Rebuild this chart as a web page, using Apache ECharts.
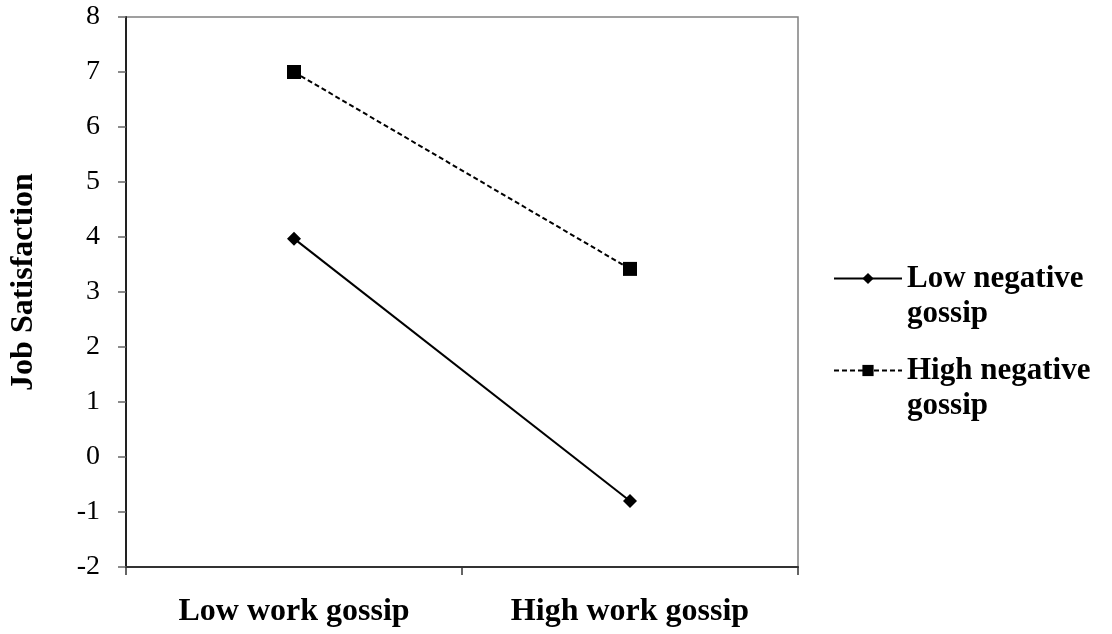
<!DOCTYPE html>
<html><head><meta charset="utf-8">
<script src="https://cdn.jsdelivr.net/npm/echarts@6/dist/echarts.min.js"></script>
<style>html,body{margin:0;padding:0;background:#fff}#c{width:1112px;height:634px}</style>
</head><body><div id="c"></div>
<script>
var categories = ['Low work gossip', 'High work gossip'];
var lowNegative = [3.97, -0.80];
var highNegative = [7.0, 3.42];
var seriesNames = ['Low negative\ngossip', 'High negative\ngossip'];
var yMin = -2, yMax = 8, yStep = 1;

var FONT = '"Liberation Serif", "Times New Roman", serif';
var chart = echarts.init(document.getElementById('c'));
chart.setOption({
  animation: false,
  backgroundColor: '#fff',
  grid: { left: 123, right: 314, top: 17, bottom: 67, show: true, borderColor: '#808080', borderWidth: 1.5 },
  legend: {
    orient: 'vertical', left: 833, top: 226, padding: 0,
    itemWidth: 68, itemHeight: 14, itemGap: -13,
    formatter: function (name) { return '\n' + name; },
    textStyle: { fontFamily: FONT, fontSize: 31, fontWeight: 'bold', color: '#000', lineHeight: 35 },
    data: seriesNames.map(function (n) { return { name: n }; })
  },
  xAxis: {
    type: 'category', data: categories, boundaryGap: true,
    axisLine: { onZero: false, lineStyle: { color: '#333', width: 2 } },
    axisTick: { show: true, length: 8, lineStyle: { color: '#333', width: 1.5 } },
    axisLabel: { fontFamily: FONT, fontSize: 32, fontWeight: 'bold', color: '#000', margin: 29 },
    splitLine: { show: false }
  },
  yAxis: {
    type: 'value', min: yMin, max: yMax, interval: yStep,
    name: 'Job Satisfaction', nameLocation: 'middle', nameGap: 86, nameRotate: 90,
    nameTextStyle: { fontFamily: FONT, fontSize: 32, fontWeight: 'bold', color: '#000', padding: [0, 0, 0, 20] },
    axisLine: { show: true, lineStyle: { color: '#222', width: 2 } },
    axisTick: { show: true, length: 8, lineStyle: { color: '#666', width: 1.5 } },
    axisLabel: { fontFamily: FONT, fontSize: 28, color: '#000', margin: 26 },
    splitLine: { show: false }
  },
  series: [
    {
      name: seriesNames[0], type: 'line', data: lowNegative,
      symbol: 'diamond', symbolSize: 14,
      lineStyle: { color: '#000', width: 2, type: 'solid' },
      itemStyle: { color: '#000' }
    },
    {
      name: seriesNames[1], type: 'line', data: highNegative,
      symbol: 'rect', symbolSize: 14,
      lineStyle: { color: '#000', width: 2, type: [5, 3] },
      itemStyle: { color: '#000' }
    }
  ]
});
</script></body></html>
